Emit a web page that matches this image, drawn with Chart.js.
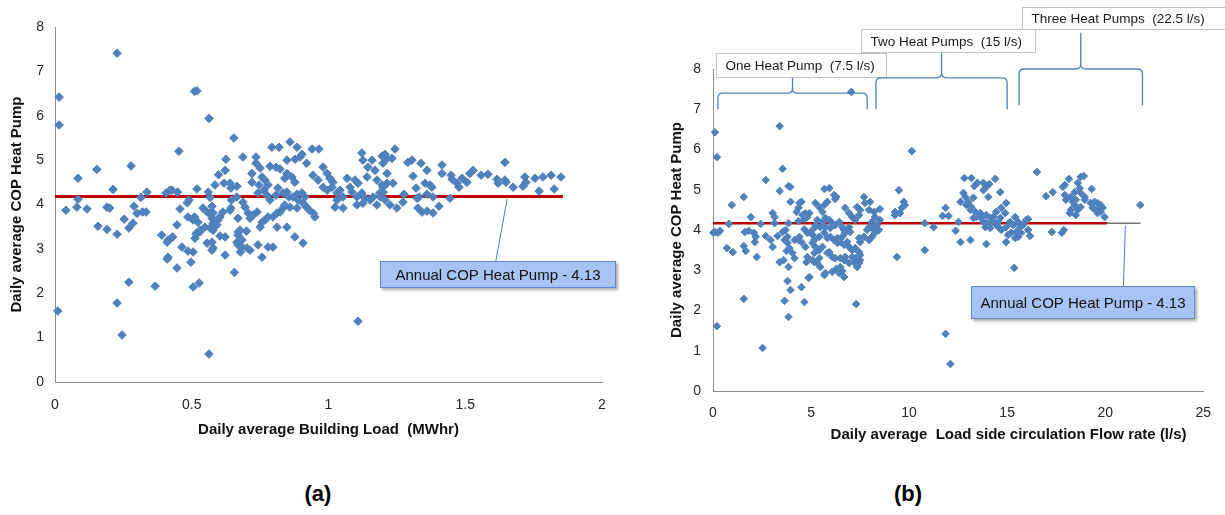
<!DOCTYPE html>
<html><head><meta charset="utf-8">
<script src="https://cdn.jsdelivr.net/npm/chart.js@4.4.0/dist/chart.umd.min.js"></script>
<style>
body{margin:0;background:#fff;width:1225px;height:515px;overflow:hidden;position:relative;font-family:"Liberation Sans",Arial,sans-serif}
#ca{position:absolute;left:0;top:0}
#cb{position:absolute;left:640px;top:0}
.cap{position:absolute;top:480px;width:100px;text-align:center;font-weight:bold;font-size:22px;line-height:28px;color:#000}
</style></head><body>
<canvas id="ca" width="640" height="460"></canvas>
<canvas id="cb" width="585" height="460"></canvas>
<div class="cap" style="left:268px">(a)</div>
<div class="cap" style="left:858px">(b)</div>
<script>
// ---------- data: chart (a) daily building load (MWhr) vs daily COP ----------
const loadCopA = [[0.01,1.6],[0.015,6.42],[0.015,5.79],[0.04,3.87],[0.08,3.94],[0.084,4.59],[0.084,4.12],[0.117,3.9],[0.153,4.79],[0.157,3.51],[0.19,3.94],[0.19,3.44],[0.2,3.92],[0.212,4.34],[0.227,7.41],[0.227,3.33],[0.227,1.78],[0.245,1.06],[0.253,3.67],[0.27,3.47],[0.27,2.25],[0.278,4.87],[0.285,3.58],[0.289,3.96],[0.3,3.8],[0.314,4.16],[0.32,3.83],[0.333,3.83],[0.336,4.28],[0.366,2.16],[0.39,3.31],[0.406,4.26],[0.41,3.15],[0.413,3.2],[0.424,3.24],[0.43,3.27],[0.41,2.77],[0.413,2.81],[0.42,4.32],[0.428,4.32],[0.448,4.28],[0.446,3.54],[0.446,2.57],[0.453,5.2],[0.457,3.9],[0.464,3.04],[0.484,4.04],[0.49,4.1],[0.486,3.72],[0.486,2.95],[0.497,2.7],[0.505,3.65],[0.51,3.72],[0.505,2.93],[0.505,2.14],[0.51,6.55],[0.519,6.56],[0.516,3.33],[0.519,4.35],[0.519,3.36],[0.512,3.24],[0.523,3.6],[0.527,2.23],[0.53,3.42],[0.53,3.38],[0.541,3.92],[0.548,3.49],[0.556,3.83],[0.556,3.13],[0.56,4.28],[0.563,5.94],[0.563,0.63],[0.567,4.16],[0.567,3.8],[0.567,3.47],[0.574,3.96],[0.574,3.69],[0.574,3.15],[0.574,2.97],[0.578,3.81],[0.578,3.58],[0.578,3.42],[0.578,3.02],[0.585,4.44],[0.592,3.54],[0.596,3.65],[0.598,4.67],[0.603,3.72],[0.603,3.29],[0.614,3.83],[0.622,3.27],[0.618,4.48],[0.622,4.77],[0.622,2.86],[0.625,5.02],[0.64,4.48],[0.64,3.87],[0.643,4.37],[0.643,3.92],[0.645,4.1],[0.654,5.5],[0.656,2.47],[0.665,4.41],[0.665,4.17],[0.665,3.15],[0.669,3.69],[0.669,3.31],[0.669,3.09],[0.67,3.38],[0.676,3.42],[0.678,2.93],[0.684,3.2],[0.684,3.04],[0.687,5.07],[0.687,4.05],[0.695,3.94],[0.7,3.4],[0.702,3.02],[0.706,3.81],[0.713,3.69],[0.713,2.97],[0.72,4.7],[0.72,4.5],[0.724,3.76],[0.735,5.07],[0.735,4.93],[0.739,3.83],[0.742,4.26],[0.742,3.09],[0.746,4.44],[0.75,4.82],[0.75,3.49],[0.757,4.62],[0.757,3.6],[0.757,2.81],[0.764,4.32],[0.768,4.55],[0.768,3.65],[0.775,4.21],[0.779,4.44],[0.779,3.72],[0.779,3.04],[0.786,4.86],[0.786,4.1],[0.793,5.29],[0.797,3.72],[0.797,3.04],[0.808,4.84],[0.808,4.21],[0.812,3.81],[0.812,3.49],[0.815,4.37],[0.819,5.29],[0.823,4.8],[0.823,3.83],[0.834,4.26],[0.834,3.92],[0.84,4.59],[0.84,3.99],[0.848,5.0],[0.848,4.7],[0.848,4.28],[0.848,3.49],[0.855,4.17],[0.859,5.41],[0.859,3.94],[0.866,4.62],[0.87,4.17],[0.877,4.5],[0.877,3.27],[0.878,5.02],[0.885,5.29],[0.885,4.23],[0.885,3.92],[0.888,4.1],[0.896,5.07],[0.903,5.13],[0.903,4.26],[0.907,4.03],[0.907,3.13],[0.914,4.17],[0.92,4.93],[0.92,3.94],[0.93,3.87],[0.94,5.25],[0.943,4.66],[0.945,3.8],[0.95,3.72],[0.962,4.55],[0.965,5.25],[0.98,4.84],[0.98,4.39],[0.995,4.7],[0.995,4.32],[1.005,4.59],[1.013,4.39],[1.016,4.5],[1.024,3.94],[1.031,4.26],[1.031,4.1],[1.042,4.32],[1.053,4.17],[1.053,3.92],[1.068,4.59],[1.079,4.39],[1.086,4.28],[1.097,4.55],[1.104,4.17],[1.104,3.99],[1.108,4.48],[1.108,1.37],[1.122,5.16],[1.122,4.26],[1.126,5.0],[1.126,4.03],[1.133,4.14],[1.141,4.62],[1.144,4.84],[1.152,4.1],[1.159,5.0],[1.163,4.17],[1.17,4.77],[1.177,4.55],[1.177,3.99],[1.188,4.26],[1.19,4.17],[1.196,5.09],[1.196,4.44],[1.199,4.93],[1.199,4.39],[1.2,4.28],[1.207,5.13],[1.207,4.1],[1.214,5.04],[1.214,4.7],[1.214,4.48],[1.225,3.99],[1.232,5.04],[1.236,4.48],[1.243,5.25],[1.25,3.92],[1.272,4.05],[1.276,4.23],[1.29,4.95],[1.305,5.0],[1.309,4.64],[1.32,4.37],[1.324,4.14],[1.331,4.17],[1.327,3.92],[1.338,4.93],[1.342,3.83],[1.353,4.48],[1.36,4.77],[1.36,4.23],[1.36,3.85],[1.371,4.44],[1.378,4.39],[1.382,4.17],[1.382,3.81],[1.404,3.96],[1.415,4.89],[1.415,4.7],[1.444,4.14],[1.448,4.66],[1.452,4.57],[1.47,4.48],[1.477,4.39],[1.488,4.59],[1.506,4.5],[1.517,4.7],[1.528,4.77],[1.558,4.66],[1.583,4.68],[1.616,4.57],[1.62,4.48],[1.645,4.95],[1.645,4.55],[1.649,4.5],[1.675,4.39],[1.711,4.41],[1.718,4.62],[1.722,4.5],[1.755,4.59],[1.77,4.3],[1.784,4.62],[1.814,4.66],[1.825,4.35],[1.85,4.62]];

// ---------- data: chart (b) load-side flow rate (l/s) vs daily COP ----------
const flowCopB = [[0.1,6.43],[0.2,5.81],[0.2,1.61],[0.1,3.95],[0.25,3.93],[0.35,3.98],[0.02,3.93],[0.71,3.55],[0.81,4.15],[0.96,4.62],[1.01,3.45],[1.57,4.82],[1.57,3.6],[1.57,2.29],[1.62,3.95],[1.67,3.48],[1.82,3.98],[1.93,4.32],[2.08,3.93],[2.13,3.7],[2.18,3.83],[2.23,3.33],[2.43,4.15],[2.53,1.07],[2.69,5.24],[2.69,3.85],[2.94,3.75],[3.04,4.42],[3.04,3.58],[3.14,4.32],[3.14,4.17],[3.29,3.85],[3.4,6.58],[3.4,4.97],[3.4,3.2],[3.55,5.52],[3.55,3.95],[3.6,3.25],[3.65,3.75],[3.65,2.24],[3.7,4.0],[3.75,3.48],[3.8,3.83],[3.8,3.68],[3.8,2.73],[3.85,5.09],[3.85,4.17],[3.85,3.08],[3.85,1.84],[3.9,3.55],[3.95,5.07],[3.95,4.7],[3.95,2.51],[4.05,3.43],[4.16,3.75],[4.16,3.3],[4.26,4.45],[4.36,4.55],[4.36,4.22],[4.36,3.75],[4.41,4.67],[4.41,3.83],[4.51,4.7],[4.51,3.7],[4.51,2.58],[4.56,4.37],[4.66,4.27],[4.66,4.02],[4.66,2.21],[4.71,4.42],[4.71,3.58],[4.76,3.2],[4.81,4.32],[4.81,3.93],[4.81,3.33],[4.87,2.81],[4.92,4.42],[4.92,2.83],[4.97,3.95],[5.07,3.88],[5.07,3.68],[5.07,3.25],[5.17,4.05],[5.17,3.75],[5.17,3.43],[5.17,3.2],[5.22,4.67],[5.22,4.12],[5.22,3.58],[5.32,4.25],[5.32,3.18],[5.42,4.57],[5.42,3.83],[5.42,3.5],[5.42,3.3],[5.47,4.07],[5.47,3.08],[5.58,4.45],[5.58,4.2],[5.58,3.58],[5.68,5.02],[5.68,4.62],[5.68,3.93],[5.68,2.88],[5.73,4.3],[5.73,4.07],[5.73,2.93],[5.83,4.7],[5.83,3.8],[5.83,3.43],[5.93,5.04],[5.93,4.25],[5.93,3.45],[5.98,4.05],[5.98,3.83],[6.08,4.17],[6.08,3.33],[6.08,2.96],[6.18,4.87],[6.18,3.75],[6.23,4.77],[6.23,4.12],[6.23,3.3],[6.28,4.82],[6.28,3.03],[6.34,3.8],[6.34,3.68],[6.44,4.2],[6.44,2.93],[6.49,3.7],[6.49,3.3],[6.49,3.08],[6.59,4.07],[6.59,3.83],[6.59,2.98],[6.69,4.0],[6.69,3.63],[6.69,3.25],[6.69,2.83],[6.74,4.55],[6.74,3.93],[6.74,3.33],[6.84,3.7],[6.94,4.42],[6.94,4.07],[6.94,3.58],[6.94,3.18],[6.99,3.95],[7.05,7.43],[7.1,4.32],[7.1,3.5],[7.1,3.33],[7.2,3.2],[7.25,4.25],[7.25,3.55],[7.25,3.3],[7.3,2.16],[7.35,4.57],[7.35,3.08],[7.45,4.37],[7.45,3.8],[7.45,3.45],[7.45,3.18],[7.5,4.5],[7.5,3.7],[7.5,3.38],[7.5,3.25],[7.7,4.82],[7.7,3.83],[7.75,4.67],[7.86,4.0],[7.96,4.5],[7.96,4.07],[7.96,3.75],[8.01,4.7],[8.11,4.2],[8.11,4.05],[8.11,3.83],[8.21,4.45],[8.26,4.32],[8.26,3.93],[8.36,4.12],[8.46,4.0],[8.51,4.52],[8.51,4.25],[9.28,4.45],[9.28,4.37],[9.38,3.33],[9.48,4.99],[9.53,4.42],[9.63,4.55],[9.73,4.7],[9.78,4.62],[10.14,5.96],[10.8,4.17],[10.8,3.5],[11.25,4.07],[11.71,4.35],[11.86,4.55],[11.86,1.42],[12.01,4.35],[12.11,0.67],[12.37,3.98],[12.52,4.2],[12.62,4.7],[12.62,3.7],[12.77,4.92],[12.82,5.29],[12.87,4.82],[12.92,4.62],[13.03,4.7],[13.13,4.5],[13.13,3.75],[13.18,5.29],[13.18,4.57],[13.28,4.8],[13.28,4.3],[13.33,5.09],[13.38,4.45],[13.43,4.32],[13.48,5.17],[13.63,4.42],[13.68,4.3],[13.79,5.17],[13.79,4.99],[13.79,4.2],[13.89,4.07],[13.94,5.07],[13.94,4.37],[13.94,4.17],[13.94,3.65],[14.04,4.82],[14.09,5.14],[14.14,4.3],[14.14,4.05],[14.19,4.17],[14.29,4.32],[14.39,5.27],[14.39,4.17],[14.44,4.45],[14.55,4.2],[14.55,4.07],[14.65,4.94],[14.65,4.3],[14.7,4.55],[14.7,4.0],[14.9,4.42],[14.95,4.67],[14.95,4.07],[14.95,3.7],[15.05,3.88],[15.15,4.2],[15.2,3.93],[15.31,4.12],[15.36,3.06],[15.41,4.32],[15.41,3.8],[15.46,3.95],[15.56,4.2],[15.56,3.83],[15.66,4.07],[15.71,3.93],[15.81,4.12],[15.97,4.25],[16.07,4.27],[16.07,4.0],[16.17,3.85],[16.52,5.44],[16.98,4.84],[17.28,3.95],[17.33,4.94],[17.79,3.93],[17.84,5.07],[17.89,4.0],[17.94,5.12],[17.94,4.87],[18.0,4.75],[18.15,5.27],[18.2,4.42],[18.25,4.82],[18.25,4.5],[18.35,4.7],[18.45,4.94],[18.45,4.62],[18.5,4.75],[18.5,4.37],[18.6,5.17],[18.6,4.5],[18.7,5.04],[18.75,5.32],[18.75,4.92],[18.75,4.57],[18.91,5.34],[18.96,4.82],[18.96,4.75],[19.26,4.67],[19.31,5.02],[19.36,4.55],[19.46,4.7],[19.51,4.5],[19.61,4.67],[19.61,4.42],[19.72,4.55],[19.77,4.62],[19.77,4.45],[19.87,4.55],[19.97,4.32],[21.79,4.62]];

// annual COP level line (as drawn) and its extents
const annualLevelA = 4.18;
const annualLineA = [0, 1.857];
const annualLevelB = 4.17;
const annualRedB = [0, 20.1];
const annualThinB = [0, 21.8];
const calloutText = 'Annual COP Heat Pump - 4.13';

// tick labels
const xTicksA = [0, 0.5, 1, 1.5, 2];
const yTicksA = [0, 1, 2, 3, 4, 5, 6, 7, 8];
const xTicksB = [0, 5, 10, 15, 20, 25];
const yTicksB = [0, 1, 2, 3, 4, 5, 6, 7, 8];

// flow-regime groups (chart b)
const groupLabels = ['One Heat Pump  (7.5 l/s)', 'Two Heat Pumps  (15 l/s)', 'Three Heat Pumps  (22.5 l/s)'];
const groupFrom = [0.25, 8.31, 15.61];
const groupTo = [7.86, 15.0, 21.9];

// ---------------------------------------------------------------------------
Chart.defaults.font.family = '"Liberation Sans", Arial, sans-serif';
Chart.defaults.color = '#262626';
const BLUE = '#4f81bd';

function toXY(arr){ return arr.map(p => ({x: p[0], y: p[1]})); }
function setTicks(arr){ return s => { s.ticks = arr.map(v => ({value: v})); }; }

function calloutPlugin(cfg){
  return {
    id: 'callout' + cfg.id,
    afterDatasetsDraw(chart){
      const {ctx} = chart; const xs = chart.scales.x, ys = chart.scales.y;
      const X = v => xs.getPixelForValue(v), Y = v => ys.getPixelForValue(v);
      ctx.save();
      ctx.strokeStyle = '#4a7dc0'; ctx.lineWidth = 1;
      ctx.beginPath(); ctx.moveTo(X(cfg.from[0]), Y(cfg.from[1])); ctx.lineTo(X(cfg.to[0]), Y(cfg.to[1])); ctx.stroke();
      const bx = Math.round(X(cfg.box[0])), by = Math.round(Y(cfg.box[2]));
      const bw = Math.round(X(cfg.box[1])) - bx, bh = Math.round(Y(cfg.box[3])) - by;
      ctx.shadowColor = 'rgba(0,0,0,0.35)'; ctx.shadowBlur = 3; ctx.shadowOffsetX = 2; ctx.shadowOffsetY = 2;
      ctx.fillStyle = '#a6c3f4'; ctx.fillRect(bx, by, bw, bh);
      ctx.shadowColor = 'transparent';
      ctx.strokeStyle = '#5b8ad2'; ctx.lineWidth = 1; ctx.strokeRect(bx + 0.5, by + 0.5, bw - 1, bh - 1);
      ctx.fillStyle = '#111'; ctx.font = '15px "Liberation Sans", Arial, sans-serif';
      ctx.textAlign = 'center'; ctx.textBaseline = 'middle';
      ctx.fillText(cfg.text, bx + bw / 2, by + bh / 2 + 1);
      ctx.restore();
    }
  };
}

// brace geometry (values in data units)
const braceGeom = [
  {end: 7.0, bar: 7.4, tip: 7.8, box: [0.15, 8.82, 8.4, 7.8]},
  {end: 7.0, bar: 7.78, tip: 8.4, box: [7.55, 16.42, 9.0, 8.42]},
  {end: 7.1, bar: 8.0, tip: 8.9, box: [15.76, 26.2, 9.54, 9.0]}
];
const bracePlugin = {
  id: 'braces',
  afterDraw(chart){
    const {ctx} = chart; const xs = chart.scales.x, ys = chart.scales.y;
    const X = v => xs.getPixelForValue(v), Y = v => ys.getPixelForValue(v);
    ctx.save();
    groupLabels.forEach((lab, i) => {
      const g = braceGeom[i];
      const x0 = X(groupFrom[i]), x1 = X(groupTo[i]), xm = X((groupFrom[i] + groupTo[i]) / 2);
      const ye = Y(g.end), yb = Y(g.bar), yt = Y(g.tip);
      const r = 5;
      ctx.strokeStyle = BLUE; ctx.lineWidth = 1.3;
      ctx.beginPath();
      ctx.moveTo(x0, ye);
      ctx.lineTo(x0, yb + r);
      ctx.quadraticCurveTo(x0, yb, x0 + r, yb);
      ctx.lineTo(xm - r, yb);
      ctx.quadraticCurveTo(xm, yb, xm, yb - r);
      ctx.lineTo(xm, yt);
      ctx.moveTo(xm, yb - r);
      ctx.quadraticCurveTo(xm, yb, xm + r, yb);
      ctx.lineTo(x1 - r, yb);
      ctx.quadraticCurveTo(x1, yb, x1, yb + r);
      ctx.lineTo(x1, ye);
      ctx.stroke();
      // label box
      const bx = Math.round(X(g.box[0])) + 0.5, by = Math.round(Y(g.box[2])) + 0.5;
      const bw = Math.round(X(g.box[1]) - X(g.box[0])), bh = Math.round(Y(g.box[3]) - Y(g.box[2]));
      ctx.fillStyle = '#fff'; ctx.fillRect(bx, by, bw, bh);
      ctx.strokeStyle = '#c3c3c3'; ctx.lineWidth = 1; ctx.strokeRect(bx, by, bw, bh);
      ctx.fillStyle = '#1a1a1a'; ctx.font = '13.5px "Liberation Sans", Arial, sans-serif';
      ctx.textAlign = 'left'; ctx.textBaseline = 'middle';
      ctx.fillText(lab, bx + 9, by + bh / 2 + 1);
    });
    ctx.restore();
  }
};

function axes(o){
  return {
    x: {type: 'linear', min: o.xmin, max: o.xmax,
        afterBuildTicks: setTicks(o.xt), afterFit: s => { s.height = o.xh; },
        grid: {display: false, drawTicks: false},
        border: {display: true, color: '#8c8c8c', width: 1},
        ticks: {padding: o.xpad, font: {size: 14}, color: '#262626', callback: v => String(v)},
        title: {display: true, text: o.xtitle, align: o.xalign || 'center', font: {size: 15, weight: 'bold'}, color: '#111', padding: {top: 0, bottom: o.xtb}}},
    y: {type: 'linear', min: 0, max: 8,
        afterBuildTicks: setTicks(o.yt), afterFit: s => { s.width = o.yw; },
        grid: {display: false, drawTicks: false},
        border: {display: true, color: '#8c8c8c', width: 1},
        ticks: {padding: o.ypad, font: {size: 14}, color: '#262626', callback: v => String(v)},
        title: {display: true, text: 'Daily average COP Heat Pump', font: {size: 15, weight: 'bold'}, color: '#111', padding: {top: o.ytp, bottom: 0}}}
  };
}

// ---------- chart (a) ----------
new Chart(document.getElementById('ca'), {
  type: 'scatter',
  data: {datasets: [
    {data: toXY(loadCopA), pointStyle: 'rectRot', pointRadius: 4.3, pointBorderWidth: 1,
     backgroundColor: BLUE, borderColor: BLUE, clip: false, order: 0},
    {type: 'line', data: annualLineA.map(v => ({x: v, y: annualLevelA})), borderColor: '#c00000', borderWidth: 3,
     pointRadius: 0, clip: false, order: 2}
  ]},
  options: {
    responsive: false, animation: false, devicePixelRatio: 1,
    layout: {padding: {left: 0, top: 27, right: 38, bottom: 0}},
    plugins: {legend: {display: false}, tooltip: {enabled: false}},
    scales: axes({xmin: 0, xmax: 2, xt: xTicksA, yt: yTicksA, xh: 78, yw: 55, xpad: 15, ypad: 11,
                  xtitle: 'Daily average Building Load  (MWhr)', xtb: 21, ytp: 8})
  },
  plugins: [calloutPlugin({id: 'A', text: calloutText, from: [1.653, 4.12], to: [1.612, 2.73], box: [1.188, 2.05, 2.73, 2.12]})]
});

// ---------- chart (b) ----------
new Chart(document.getElementById('cb'), {
  type: 'scatter',
  data: {datasets: [
    {data: toXY(flowCopB), pointStyle: 'rectRot', pointRadius: 3.8, pointBorderWidth: 1,
     backgroundColor: BLUE, borderColor: BLUE, clip: false, order: 0},
    {type: 'line', data: annualRedB.map(v => ({x: v, y: annualLevelB})), borderColor: '#c00000', borderWidth: 2.5,
     pointRadius: 0, clip: false, order: 1},
    {type: 'line', data: annualThinB.map(v => ({x: v, y: annualLevelB})), borderColor: '#2a2a2a', borderWidth: 1,
     pointRadius: 0, clip: false, order: 2}
  ]},
  options: {
    responsive: false, animation: false, devicePixelRatio: 1,
    layout: {padding: {left: 0, top: 69, right: 19, bottom: 0}},
    plugins: {legend: {display: false}, tooltip: {enabled: false}},
    scales: axes({xmin: 0, xmax: 25, xt: xTicksB, yt: yTicksB, xh: 69, yw: 73, xpad: 14, ypad: 12,
                  xtitle: 'Daily average  Load side circulation Flow rate (l/s)\u00a0\u00a0\u00a0\u00a0', xalign: 'end', xtb: 16, ytp: 28})
  },
  plugins: [calloutPlugin({id: 'B', text: calloutText, from: [21.03, 4.1], to: [20.93, 2.61], box: [13.18, 24.58, 2.61, 1.79]}), bracePlugin]
});
</script>
</body></html>
